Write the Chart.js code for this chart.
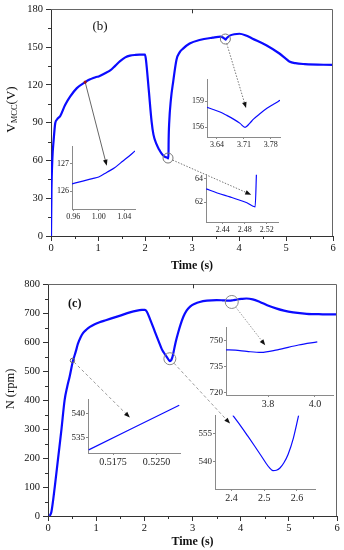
<!DOCTYPE html>
<html><head><meta charset="utf-8">
<script src="https://cdn.jsdelivr.net/npm/chart.js@4.4.1/dist/chart.umd.min.js"></script>
<style>
html,body{margin:0;padding:0;background:#fff;overflow:hidden}
#wrap{position:relative;width:344px;height:550px;background:#fff}
canvas{position:absolute;display:block}
</style></head><body>
<div id="wrap"></div>
<script>
// ---------------- Panel (b): V_MCC (V) vs time (s) ----------------
const timeB = [0,0.01,0.03,0.055,0.09,0.127,0.2,0.3,0.41,0.55,0.73,0.82,0.9,0.96,1.013,1.057,1.15,1.26,1.37,1.47,1.58,1.68,1.8,1.9,2.0,2.02,2.08,2.14,2.18,2.245,2.3,2.35,2.41,2.453,2.484,2.499,2.503,2.515,2.55,2.6,2.67,2.74,2.81,2.95,3.16,3.44,3.614,3.648,3.683,3.713,3.735,3.77,3.804,3.9,4.01,4.15,4.29,4.58,4.86,5.0,5.07,5.2,5.4,6.0];
const voltB = [0,36,62,75.5,89.5,92.5,95.5,104,110.8,117.4,122.2,124.2,125.5,126.28,126.69,127.46,129.2,131.5,135.3,138.8,141.8,143.2,143.8,144.0,144.1,140,116,91,80.5,72.9,68.6,65.6,63.13,62.44,61.94,61.59,76,90,108,122.6,140,146,148.8,152.8,155.6,157.5,158.3,157.76,156.94,156.0,156.94,158.18,159.1,160.2,160.6,159.2,156.7,151.5,144.9,140.6,138.6,137.2,136.5,135.8];
// insets of (b)
const insetB1Time = [0.958,0.975,0.99,1.0,1.013,1.025,1.034,1.045,1.057];
const insetB1Volt = [126.27,126.37,126.46,126.52,126.69,126.85,127.02,127.22,127.46];
const insetB2Time = [3.614,3.63,3.648,3.665,3.683,3.7,3.713,3.725,3.735,3.75,3.77,3.787,3.804];
const insetB2Volt = [158.3,158.05,157.76,157.38,156.94,156.45,156.0,156.45,156.94,157.5,158.18,158.65,159.1];
const insetB3Time = [2.41,2.43,2.453,2.47,2.484,2.499,2.5015];
const insetB3Volt = [63.13,62.78,62.44,62.18,61.94,61.59,64.6];

// ---------------- Panel (c): N (rpm) vs time (s) ----------------
const timeC = [0.035,0.07,0.14,0.21,0.28,0.345,0.4,0.45,0.5133,0.5289,0.58,0.62,0.68,0.73,0.8,0.87,0.97,1.07,1.2,1.35,1.5,1.7,1.85,1.95,2.01,2.05,2.12,2.22,2.3,2.36,2.404,2.449,2.49,2.51,2.527,2.548,2.573,2.589,2.605,2.65,2.7,2.75,2.81,2.88,2.95,3.05,3.15,3.3,3.5,3.621,3.71,3.77,3.84,3.93,4.01,4.12,4.25,4.4,4.55,4.75,4.9,5.09,5.37,5.7,6.0];
const speedC = [0,14,100,200,300,400,447,482,532.6,541.6,570,594,618,632,644,653,662,669,676,684,692,703,709,711.5,712,706,679,636,602,577,564.5,553.3,543,538,535,536.1,543.8,552.4,564.5,600,632,660,688,710,723,733,739,743.5,745.5,744.8,743.9,743.3,744.8,747.6,749.4,751,748,739,728,716,709,703,698,696.5,696];
// insets of (c)
const insetC1Time = [3.621,3.66,3.71,3.77,3.84,3.93,4.01];
const insetC1Speed = [744.8,744.6,743.9,743.3,744.8,747.6,749.4];
const insetC2Time = [0.5133,0.5289];
const insetC2Speed = [532.6,541.6];
const insetC3Time = [2.404,2.43,2.45,2.47,2.49,2.505,2.515,2.527,2.537,2.548,2.56,2.573,2.589,2.605];
const insetC3Speed = [564.5,558.4,553.4,548.3,543.1,539.1,536.7,535.0,535.2,536.4,539.2,543.8,552.4,564.5];

// ---------------- tick labels ----------------
const xTicksMain = [0,1,2,3,4,5,6];
const xMinorMain = [0.5,1.5,2.5,3.5,4.5,5.5];
const topTickMarks = [3];
const yTicksB = [0,30,60,90,120,150,180];
const yMinorB = [15,45,75,105,135,165];
const yTicksC = [0,100,200,300,400,500,600,700,800];
const yMinorC = [50,150,250,350,450,550,650,750];
const xTicksB1 = [0.96,1.00,1.04], yTicksB1 = [126,127];
const xTicksB2 = [3.64,3.71,3.78], yTicksB2 = [156,159];
const xTicksB3 = [2.44,2.48,2.52], yTicksB3 = [62,64];
const xTicksC1 = [3.8,4.0], yTicksC1 = [720,735,750];
const xTicksC2 = [0.5175,0.5250], yTicksC2 = [535,540];
const xTicksC3 = [2.4,2.5,2.6], yTicksC3 = [540,555];

// ---------------- styling / layout ----------------
const SERIF = '"Liberation Serif","Times New Roman",serif';
const BLUE = '#0b0bff';
const AXIS = '#333';
Chart.defaults.font.family = SERIF;

function pts(xs, ys){ return xs.map((x,i)=>({x:x, y:ys[i]})); }

function makeCanvas(left, top, w, h){
  const c = document.createElement('canvas');
  c.width = w; c.height = h;
  c.style.left = left+'px'; c.style.top = top+'px';
  c.style.width = w+'px'; c.style.height = h+'px';
  document.getElementById('wrap').appendChild(c);
  return c;
}

function scaleOpts(o){
  return {
    type:'linear', min:o.min, max:o.max,
    border:{display:true, color:o.color, width:1},
    grid:{drawOnChartArea:false, drawTicks:true, tickLength:o.tl, tickColor:o.color, tickWidth:1},
    ticks:{autoSkip:false, maxRotation:0, minRotation:0, padding:o.pad, color:o.text||'#111',
      font:{family:SERIF, size:o.fs}, callback:(v)=>o.fmt(v)},
    afterBuildTicks:(s)=>{ s.ticks = o.ticks.map(v=>({value:v})); },
    afterFit:(s)=>{ if(o.axis==='x') s.height=o.size; else s.width=o.size; }
  };
}

function drawArrowLine(ctx, x0,y0,x1,y1, color, dash, head){
  const d = Math.hypot(x1-x0,y1-y0), ux=(x1-x0)/d, uy=(y1-y0)/d;
  ctx.save();
  ctx.strokeStyle=color; ctx.lineWidth=1; ctx.setLineDash(dash);
  ctx.beginPath(); ctx.moveTo(x0,y0); ctx.lineTo(x1-ux*4,y1-uy*4); ctx.stroke();
  ctx.setLineDash([]);
  ctx.fillStyle=head;
  ctx.beginPath();
  ctx.moveTo(x1,y1);
  ctx.lineTo(x1-ux*6-uy*2.3, y1-uy*6+ux*2.3);
  ctx.lineTo(x1-ux*6+uy*2.3, y1-uy*6-ux*2.3);
  ctx.closePath(); ctx.fill();
  ctx.restore();
}

function makeDecor(cfg){
  return {
    id:'decor',
    afterDraw(chart){
      const ctx=chart.ctx, a=chart.chartArea, sx=chart.scales.x, sy=chart.scales.y;
      const px=v=>sx.getPixelForValue(v), py=v=>sy.getPixelForValue(v);
      ctx.save();
      // top + right frame
      ctx.strokeStyle=cfg.frame; ctx.lineWidth=1;
      ctx.beginPath();
      const T=Math.round(a.top)+0.5, R=Math.round(a.right)-0.5;
      ctx.moveTo(a.left,T); ctx.lineTo(R,T); ctx.lineTo(R,a.bottom); ctx.stroke();
      // minor ticks (outward) and top tick marks (inward)
      ctx.strokeStyle=AXIS; ctx.beginPath();
      cfg.minorX.forEach(v=>{const x=Math.round(px(v))+0.5; ctx.moveTo(x,a.bottom); ctx.lineTo(x,a.bottom+3);});
      cfg.minorY.forEach(v=>{const y=Math.round(py(v))+0.5; ctx.moveTo(a.left,y); ctx.lineTo(a.left-3,y);});
      cfg.topTicks.forEach(v=>{const x=Math.round(px(v))+0.5; ctx.moveTo(x,a.top); ctx.lineTo(x,a.top+4);});
      ctx.stroke();
      // callouts
      cfg.callouts.forEach(c=>{
        const cx=px(c.from[0]), cy=py(c.from[1]), ex=px(c.to[0]), ey=py(c.to[1]);
        const d=Math.hypot(ex-cx,ey-cy), ux=(ex-cx)/d, uy=(ey-cy)/d;
        let x0=cx, y0=cy;
        if(c.ring){
          ctx.strokeStyle=c.ringColor; ctx.lineWidth=1; ctx.setLineDash([]);
          ctx.beginPath(); ctx.arc(cx,cy,c.ring,0,Math.PI*2); ctx.stroke();
          x0=cx+ux*c.ring; y0=cy+uy*c.ring;
        }
        drawArrowLine(ctx,x0,y0,ex,ey,c.color,c.dash,'#111');
        if(c.dot){ ctx.fillStyle=c.dot; ctx.beginPath(); ctx.arc(cx,cy,1.6,0,Math.PI*2); ctx.fill(); }
      });
      // panel label
      ctx.fillStyle='#111'; ctx.font=cfg.label.font; ctx.textAlign='center'; ctx.textBaseline='middle';
      ctx.fillText(cfg.label.text, px(cfg.label.at[0]), py(cfg.label.at[1]));
      // x title
      ctx.font='bold 12px '+SERIF;
      ctx.fillText('Time (s)', (a.left+a.right)/2, cfg.xTitleY);
      // y title (rotated, with subscript parts)
      ctx.translate(cfg.yTitle.x, cfg.yTitle.y); ctx.rotate(-Math.PI/2);
      ctx.textAlign='left'; ctx.textBaseline='alphabetic';
      let total=0;
      cfg.yTitle.parts.forEach(p=>{ctx.font=p.font; total+=ctx.measureText(p.t).width;});
      let x=-total/2;
      cfg.yTitle.parts.forEach(p=>{ctx.font=p.font; ctx.fillText(p.t,x,4+p.dy); x+=ctx.measureText(p.t).width;});
      ctx.restore();
    }
  };
}

function mainChart(canvas, o){
  return new Chart(canvas,{
    type:'line',
    data:{datasets:[{data:pts(o.t,o.v), borderColor:BLUE, borderWidth:2.2, pointRadius:0,
      cubicInterpolationMode:'monotone', fill:false}]},
    options:{
      responsive:false, animation:false, devicePixelRatio:1,
      layout:{padding:o.padding},
      plugins:{legend:{display:false}, tooltip:{enabled:false}},
      scales:{
        x:scaleOpts({axis:'x', min:0, max:6, ticks:xTicksMain, fmt:v=>String(v), fs:10.5, tl:5, pad:1, size:o.xH, color:AXIS}),
        y:scaleOpts({axis:'y', min:o.ymin, max:o.ymax, ticks:o.yticks, fmt:v=>String(v), fs:10.5, tl:5, pad:3, size:o.yW, color:AXIS})
      }
    },
    plugins:[makeDecor(o.decor)]
  });
}

function insetChart(box, xs, ys, o){
  const W=28, H=16, PT=4, PR=14;
  const l=Math.round(box.l), t=Math.round(box.t), w=Math.round(box.r-box.l), h=Math.round(box.b-box.t);
  const cw=W+w+PR, ch=PT+h+H;
  const c=makeCanvas(l-W, t-PT, cw, ch);
  return new Chart(c,{
    type:'line',
    data:{datasets:[{data:pts(xs,ys), borderColor:BLUE, borderWidth:1.2, pointRadius:0,
      cubicInterpolationMode:'monotone', fill:false}]},
    options:{
      responsive:false, animation:false, devicePixelRatio:1,
      layout:{padding:{left:0, top:PT, right:PR, bottom:0}},
      plugins:{legend:{display:false}, tooltip:{enabled:false}},
      scales:{
        x:scaleOpts({axis:'x', min:o.xmin, max:o.xmax, ticks:o.xticks, fmt:v=>v.toFixed(o.xd), fs:o.xfs, tl:2, pad:o.xpad, size:H, color:'#8a8a8a', text:'#222'}),
        y:scaleOpts({axis:'y', min:o.ymin, max:o.ymax, ticks:o.yticks, fmt:v=>v.toFixed(0), fs:o.yfs, tl:2, pad:1, size:W, color:'#8a8a8a', text:'#222'})
      }
    }
  });
}

// ---------- panel (b) ----------
const cB = makeCanvas(0,0,344,275);
mainChart(cB,{
  t:timeB, v:voltB, ymin:0, ymax:180, yticks:yTicksB,
  padding:{left:0, top:7, right:11, bottom:0}, xH:39, yW:51,
  decor:{
    frame:'#666', minorX:xMinorMain, minorY:yMinorB, topTicks:topTickMarks,
    callouts:[
      {from:[0.727,122.2], to:[1.186,55.8], color:'#666', dash:[], dot:'#a01010'},
      {from:[3.71,156.4], to:[4.15,101.6], ring:5, ringColor:'#777', color:'#777', dash:[1.5,1.5]},
      {from:[2.49,61.9], to:[4.26,32.8], ring:5, ringColor:'#777', color:'#777', dash:[1.5,1.5]}
    ],
    label:{text:'(b)', at:[1.045,166.2], font:'13px '+SERIF},
    xTitleY:266,
    yTitle:{x:11, y:109.5, parts:[{t:'V',font:'13px '+SERIF,dy:0},{t:'MCC',font:'8.5px '+SERIF,dy:2},{t:'(V)',font:'13px '+SERIF,dy:0}]}
  }
});
insetChart({l:71.7,t:145,r:135,b:209}, insetB1Time, insetB1Volt,
  {xmin:0.958, xmax:1.057, ymin:125.36, ymax:127.61, xticks:xTicksB1, yticks:yTicksB1, xd:2, xfs:8, yfs:8, xpad:1});
insetChart({l:206.7,t:78,r:280,b:136.7}, insetB2Time, insetB2Volt,
  {xmin:3.614, xmax:3.804, ymin:154.88, ymax:161.47, xticks:xTicksB2, yticks:yTicksB2, xd:2, xfs:8, yfs:8, xpad:1});
insetChart({l:206,t:172.7,r:278,b:221.7}, insetB3Time, insetB3Volt,
  {xmin:2.4096, xmax:2.5406, ymin:60.3, ymax:64.33, xticks:xTicksB3, yticks:yTicksB3, xd:2, xfs:8, yfs:8, xpad:1});

// ---------- panel (c) ----------
const cC = makeCanvas(0,275,344,275);
mainChart(cC,{
  t:timeC, v:speedC, ymin:0, ymax:800, yticks:yTicksC,
  padding:{left:0, top:9, right:7, bottom:0}, xH:34, yW:48,
  decor:{
    frame:'#666', minorX:xMinorMain, minorY:yMinorC, topTicks:topTickMarks,
    callouts:[
      {from:[0.507,537], to:[1.70,339.8], ring:2.2, ringColor:'#666', color:'#999', dash:[3,2.5]},
      {from:[2.53,543], to:[3.78,319], ring:6, ringColor:'#888', color:'#999', dash:[3,2.5]},
      {from:[3.815,739], to:[4.51,589.4], ring:6.5, ringColor:'#888', color:'#999', dash:[1.5,1.5]}
    ],
    label:{text:'(c)', at:[0.555,733.4], font:'bold 12px '+SERIF},
    xTitleY:266.7,
    yTitle:{x:10, y:114, parts:[{t:'N (rpm)',font:'12.5px '+SERIF,dy:0}]}
  }
});
insetChart({l:226,t:325,r:333,b:395}, insetC1Time, insetC1Speed,
  {xmin:3.621, xmax:4.077, ymin:718.7, ymax:757.8, xticks:xTicksC1, yticks:yTicksC1, xd:1, xfs:10, yfs:9, xpad:1});
insetChart({l:88.3,t:396.7,r:180,b:452.3}, insetC2Time, insetC2Speed,
  {xmin:0.51318, xmax:0.52903, ymin:531.97, ymax:542.78, xticks:xTicksC2, yticks:yTicksC2, xd:4, xfs:10, yfs:9, xpad:1});
insetChart({l:215,t:413.3,r:315,b:489.3}, insetC3Time, insetC3Speed,
  {xmin:2.3496, xmax:2.655, ymin:525.2, ymax:564.5, xticks:xTicksC3, yticks:yTicksC3, xd:1, xfs:10, yfs:9, xpad:1});
</script>
</body></html>
